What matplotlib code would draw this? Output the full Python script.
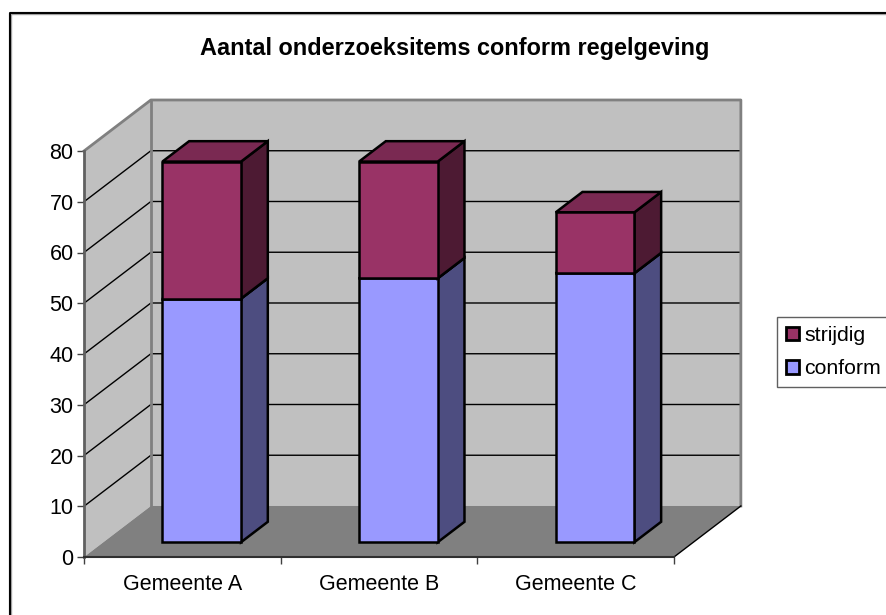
import matplotlib
matplotlib.use("Agg")
import matplotlib.pyplot as plt
from matplotlib.lines import Line2D
from matplotlib.patches import Patch

plt.rcParams["font.family"] = ["Liberation Sans", "DejaVu Sans"]

categories = ["Gemeente A", "Gemeente B", "Gemeente C"]
conform = [48, 52, 53]
strijdig = [27, 23, 12]
y_ticks = [0, 10, 20, 30, 40, 50, 60, 70, 80]

# depth of the fake 3d box, in data units
dx = 0.34
dy = 10.05
bar_w = 0.4
d0 = 0.29
d1 = 0.69

fig = plt.figure(figsize=(8.87, 6.15), dpi=100)
ax = fig.add_axes([84 / 887, 58 / 615, 590 / 887, 406 / 615])
ax.set_xlim(0, 3)
ax.set_ylim(0, 80)
ax.patch.set_visible(False)

# chart frame, only left and top are inside the picture
fx = 10.5 / 887
fy = 1 - 12.5 / 615
fig.add_artist(Line2D([fx, fx, 1], [0, fy, fy], color="#A0A0A0", lw=2.4, transform=fig.transFigure))
fig.add_artist(Line2D([fx, fx, 1], [0, fy, fy], color="black", lw=1.4, transform=fig.transFigure))

# walls and floor
ymax = y_ticks[-1]
ax.fill([dx, 3 + dx, 3 + dx, dx], [dy, dy, ymax + dy, ymax + dy], color="#C0C0C0", zorder=1, clip_on=False, lw=0)
ax.fill([0, dx, dx, 0], [0, dy, ymax + dy, ymax], color="#C0C0C0", zorder=1, clip_on=False, lw=0)
ax.fill([0, 3, 3 + dx, dx], [0, 0, dy, dy], color="#808080", zorder=2, clip_on=False, lw=0)

for v in y_ticks[1:-1]:
    ax.plot([0, dx, 3 + dx], [v, v + dy, v + dy], color="black", lw=1, zorder=3, clip_on=False)
ax.plot([0, dx, 3 + dx, 3 + dx], [ymax, ymax + dy, ymax + dy, dy], color="#808080", lw=2, zorder=3, clip_on=False)
ax.plot([dx, dx], [dy, ymax + dy], color="#808080", lw=2, zorder=3, clip_on=False)
ax.plot([3, 3 + dx], [0, dy], color="black", lw=1, zorder=3, clip_on=False)

# bars
def box(x, y0, y1, front, side, top):
    xa = x + dx * d0
    xb = xa + bar_w
    ya = y0 + dy * d0
    yb = y1 + dy * d0
    sx = dx * (d1 - d0)
    sy = dy * (d1 - d0)
    kw = dict(edgecolor="black", lw=1.8, zorder=4, clip_on=False, joinstyle="miter")
    ax.fill([xb, xb + sx, xb + sx, xb], [ya, ya + sy, yb + sy, yb], facecolor=side, **kw)
    ax.fill([xa, xb, xb + sx, xa + sx], [yb, yb, yb + sy, yb + sy], facecolor=top, **kw)
    ax.fill([xa, xb, xb, xa], [ya, ya, yb, yb], facecolor=front, **kw)

for i in range(len(categories)):
    x = i + 0.3
    box(x, 0, conform[i], "#9999FF", "#4D4D80", "#7A7ACC")
    box(x, conform[i], conform[i] + strijdig[i], "#993366", "#4D1A33", "#7A2952")

# axes
for s in ["top", "right"]:
    ax.spines[s].set_visible(False)
ax.spines["left"].set_color("#606060")
ax.spines["left"].set_linewidth(2)
ax.spines["bottom"].set_color("#303030")
ax.spines["bottom"].set_linewidth(1.5)
ax.spines["left"].set_zorder(5)
ax.spines["bottom"].set_zorder(5)
ax.set_yticks(y_ticks)
ax.set_xticks([0, 1, 2, 3])
ax.set_xticklabels([])
ax.set_xticks([0.5, 1.5, 2.5], minor=True)
ax.set_xticklabels(categories, minor=True)
ax.tick_params(axis="x", which="minor", length=0, labelsize=15.5, pad=12)
ax.tick_params(axis="x", which="major", length=5, width=1, color="#404040")
ax.tick_params(axis="y", length=5, width=1, color="#404040", labelsize=15.5, pad=2.5)

fig.text(455 / 887, 1 - 48 / 615, "Aantal onderzoeksitems conform regelgeving",
         ha="center", va="center", fontsize=16.9, fontweight="bold")

handles = [Patch(facecolor="#993366", edgecolor="black", lw=2, label="strijdig"),
           Patch(facecolor="#9999FF", edgecolor="black", lw=2, label="conform")]
fig.legend(handles=handles, loc="upper left", bbox_to_anchor=(777.5 / 887, 1 - 317 / 615),
           fontsize=15.3, frameon=True, fancybox=False, framealpha=1, edgecolor="#606060",
           handlelength=0.6, handleheight=0.6, handletextpad=0.25, labelspacing=0.68,
           borderpad=0.42, borderaxespad=0)

fig.savefig("out.png", dpi=100)
